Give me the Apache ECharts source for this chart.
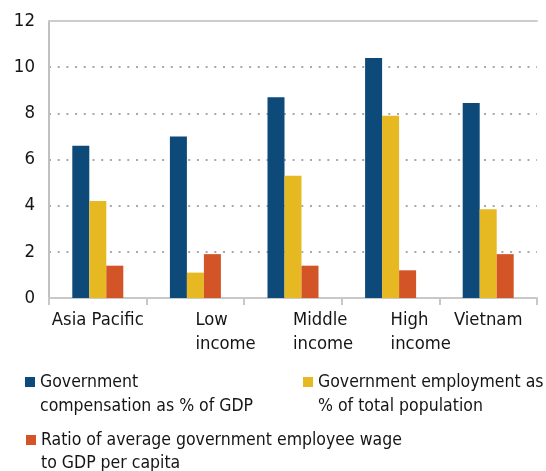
<!DOCTYPE html>
<html>
<head>
<meta charset="utf-8">
<script src="https://cdn.jsdelivr.net/npm/echarts@6/dist/echarts.min.js"></script>
<style>
  html, body { margin: 0; padding: 0; background: #fff; }
  #chart { width: 546px; height: 471px; }
</style>
</head>
<body>
<div id="chart"></div>
<script>
// Income groups compared on the horizontal axis
const categories = ['Asia Pacific', 'Low\nincome', 'Middle\nincome', 'High\nincome', 'Vietnam'];

// Series names
const seriesNames = [
  'Government compensation as % of GDP',
  'Government employment as % of total population',
  'Ratio of average government employee wage to GDP per capita'
];

// Values per category, in the order of `categories`
const compensationPctGdp = [6.6, 7.0, 8.7, 10.4, 8.45];
const employmentPctPop   = [4.2, 1.1, 5.3, 7.9, 3.85];
const wageToGdpPerCapita = [1.4, 1.9, 1.4, 1.2, 1.9];

// Value axis ticks
const yTicks = [0, 2, 4, 6, 8, 10, 12];

const FONT = '"DejaVu Sans Condensed", "Liberation Sans Narrow", sans-serif';
const TEXT = '#151515';
const COLORS = ['#0d4a79', '#e6b922', '#d35427'];

// Two-line labels sit left-aligned from the category centre
const labelAlign = { 'Asia Pacific': 'center', 'Vietnam': 'center' };
const categoryData = categories.map(c => ({
  value: c,
  textStyle: { align: labelAlign[c] || 'left' }
}));

// Legend text wrapping; the leading blank line keeps the marker beside the first line
const legendWrap = {
  [seriesNames[0]]: '\nGovernment\ncompensation as % of GDP',
  [seriesNames[1]]: '\nGovernment employment as\n% of total population',
  [seriesNames[2]]: '\nRatio of average government employee wage\nto GDP per capita'
};

function legendFor(name, left, top, lh) {
  return {
    data: [name],
    left: left,
    top: top,
    padding: 0,
    icon: 'rect',
    itemWidth: 10,
    itemHeight: 10,
    selectedMode: false,
    formatter: n => legendWrap[n],
    textStyle: {
      fontFamily: FONT,
      fontSize: 17.5,
      color: TEXT,
      lineHeight: lh
    }
  };
}

const chart = echarts.init(document.getElementById('chart'));
chart.setOption({
  animation: false,
  backgroundColor: '#fff',
  textStyle: { fontFamily: FONT },
  grid: { left: 49, right: 9, top: 21, bottom: 173, containLabel: false },
  legend: [
    legendFor(seriesNames[0], 25, 346, 24),
    legendFor(seriesNames[1], 303, 346, 24),
    legendFor(seriesNames[2], 26, 405.5, 23)
  ],
  xAxis: [
    {
      type: 'category',
      data: categoryData,
      axisLine: { lineStyle: { color: '#c8c8c8', width: 2 } },
      axisTick: { show: true, length: 7, lineStyle: { color: '#c8c8c8', width: 2 } },
      axisLabel: {
        interval: 0,
        margin: 10,
        fontFamily: FONT,
        fontSize: 18.3,
        lineHeight: 24.5,
        color: TEXT
      }
    },
    {
      // frame line along the top of the plot
      type: 'category',
      position: 'top',
      data: categories,
      axisLine: { show: true, lineStyle: { color: '#cccccc', width: 2 } },
      axisTick: { show: false },
      axisLabel: { show: false }
    }
  ],
  yAxis: {
    type: 'value',
    min: yTicks[0],
    max: yTicks[yTicks.length - 1],
    interval: yTicks[1] - yTicks[0],
    axisLine: { show: true, lineStyle: { color: '#c0c0c0', width: 2 } },
    axisTick: { show: false },
    axisLabel: {
      margin: 14,
      fontFamily: FONT,
      fontSize: 18.5,
      color: TEXT,
      padding: [6, 0, 0, 0]
    },
    splitLine: {
      show: true,
      lineStyle: { color: '#a8a8a8', width: 2, type: [2, 6.7] }
    }
  },
  series: [
    { name: seriesNames[0], type: 'bar', data: compensationPctGdp, barWidth: 17, barGap: '0%', itemStyle: { color: COLORS[0] } },
    { name: seriesNames[1], type: 'bar', data: employmentPctPop,   barWidth: 17, barGap: '0%', itemStyle: { color: COLORS[1] } },
    { name: seriesNames[2], type: 'bar', data: wageToGdpPerCapita, barWidth: 17, barGap: '0%', itemStyle: { color: COLORS[2] } }
  ]
});
</script>
</body>
</html>
